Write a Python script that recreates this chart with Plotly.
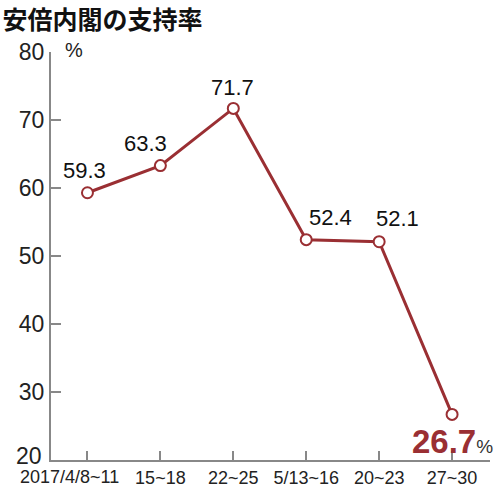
import plotly.graph_objects as go

title = "安倍内閣の支持率"
categories = ["2017/4/8~11", "15~18", "22~25", "5/13~16", "20~23", "27~30"]
support = [59.3, 63.3, 71.7, 52.4, 52.1, 26.7]
y_ticks = [20, 30, 40, 50, 60, 70, 80]

red = "#9a2f33"
font_latin = "Liberation Sans, Arial"
x_idx = list(range(len(categories)))
# first x label sits left of its tick in the reference; draw it as an annotation
tick_text = [""] + categories[1:]
# the lowest y label is raised in the reference; draw it as an annotation
y_text = ["" if t == y_ticks[0] else str(t) for t in y_ticks]

fig = go.Figure()
fig.add_trace(go.Scatter(
    x=x_idx, y=support, mode="lines+markers",
    line=dict(color=red, width=3),
    marker=dict(size=11, color="white", line=dict(color=red, width=2)),
    hoverinfo="skip", showlegend=False,
))

# label offsets (pixels) for each point
offsets = [(-3, 22), (-15, 22), (-1, 21), (24, 22), (18, 23), (0, -27)]
for i, (v, (dx, dy)) in enumerate(zip(support, offsets)):
    if i == len(support) - 1:
        fig.add_annotation(x=i, y=v, showarrow=False, xshift=dx, yshift=dy,
                           text=f"<b>{v}</b><span style='color:#333;font-size:19px;font-weight:normal'>%</span>",
                           font=dict(family=font_latin, size=33, color=red))
    else:
        fig.add_annotation(x=i, y=v, text=f"{v}", showarrow=False, xshift=dx, yshift=dy,
                           font=dict(family=font_latin, size=22, color="#111"))

fig.add_annotation(xref="x", yref="paper", x=x_idx[0], y=0, text=categories[0],
                   showarrow=False, xanchor="center", yanchor="top", xshift=-18, yshift=-5,
                   font=dict(family=font_latin, size=18, color="#222"))

fig.add_annotation(xref="paper", yref="y", x=0, y=y_ticks[0], text=str(y_ticks[0]),
                   showarrow=False, xanchor="right", yanchor="middle", xshift=-7, yshift=4,
                   font=dict(family=font_latin, size=23, color="#222"))

fig.add_annotation(xref="paper", yref="paper", x=0, y=1.0, text="%", showarrow=False,
                   xanchor="left", yanchor="middle", xshift=12, yshift=2,
                   font=dict(family=font_latin, size=20, color="#222"))

fig.update_layout(
    width=500, height=498,
    margin=dict(l=51, r=10, t=52, b=36),
    paper_bgcolor="white", plot_bgcolor="white",
    title=dict(text=f"<b>{title}</b>", x=0.005, xanchor="left", y=0.976, yanchor="top",
               font=dict(family="Noto Sans CJK JP", size=25, color="#111")),
    xaxis=dict(
        tickmode="array", tickvals=x_idx, ticktext=tick_text, tickangle=0,
        range=[-0.5, 5.52], showgrid=False, zeroline=False,
        showline=True, linecolor="#888", linewidth=2,
        ticks="inside", ticklen=9, tickcolor="#888", tickwidth=1.5,
        tickfont=dict(family=font_latin, size=18, color="#222"),
    ),
    yaxis=dict(
        range=[20, 80], tickmode="array", tickvals=y_ticks, ticktext=y_text,
        showgrid=False, zeroline=False,
        showline=True, linecolor="#888", linewidth=2,
        ticks="inside", ticklen=10, tickcolor="#888", tickwidth=1.5,
        tickfont=dict(family=font_latin, size=23, color="#222"),
    ),
)

fig.write_html("out.html", config={"displayModeBar": False},
               post_script="document.body.style.margin='0';")
